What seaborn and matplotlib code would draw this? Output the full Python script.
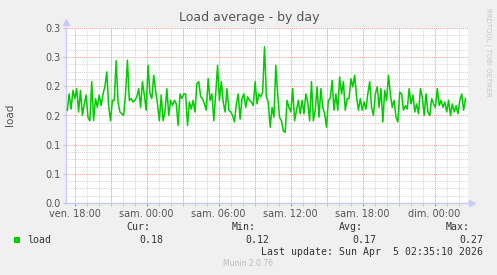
import numpy as np
import pandas as pd
import matplotlib
matplotlib.use("Agg")
import matplotlib.pyplot as plt
import seaborn as sns
from matplotlib.ticker import MultipleLocator, FuncFormatter

# ---- data ----
load_values = [
    # ven. 17:25 ->
    0.159, 0.187, 0.161, 0.193, 0.179, 0.196, 0.156, 0.193, 0.150, 0.170,
    0.185, 0.147, 0.141, 0.208, 0.141, 0.179, 0.164, 0.185, 0.167, 0.187,
    0.199, 0.225, 0.167, 0.141, 0.176, 0.176, 0.244, 0.173, 0.156, 0.153,
    0.150, 0.187, 0.245, 0.176, 0.179, 0.173, 0.176, 0.182, 0.196, 0.164,
    0.208, 0.185, 0.159, 0.236, 0.187, 0.179, 0.219, 0.193, 0.170, 0.141,
    0.185, 0.141, 0.156, 0.196, 0.150, 0.176, 0.167, 0.176, 0.170, 0.133,
    0.187, 0.179, 0.187,
    0.187, 0.133, 0.173, 0.161, 0.176, 0.156, 0.205, 0.208, 0.182, 0.179,
    0.170, 0.159, 0.213, 0.176, 0.187, 0.141, 0.187, 0.236, 0.176, 0.208,
    0.173, 0.156, 0.196, 0.159, 0.156, 0.150, 0.139, 0.170, 0.187, 0.144,
    0.179,
    0.187, 0.164, 0.182, 0.176, 0.173, 0.167, 0.208, 0.170, 0.187, 0.182,
    0.190, 0.268, 0.182, 0.173, 0.130, 0.164, 0.147, 0.236, 0.187, 0.147,
    0.141, 0.124, 0.121, 0.176, 0.164, 0.156, 0.196, 0.141, 0.159, 0.176,
    0.153,
    0.176, 0.153, 0.187, 0.173, 0.141, 0.208, 0.141, 0.159, 0.199, 0.147,
    0.196, 0.164, 0.153, 0.130, 0.176, 0.179, 0.210, 0.159, 0.187, 0.159,
    0.216, 0.187, 0.208, 0.159, 0.179, 0.179, 0.213, 0.199, 0.219, 0.182,
    0.159,
    0.179, 0.159, 0.173, 0.161, 0.187, 0.208, 0.164, 0.150, 0.187, 0.199,
    0.164, 0.196, 0.139, 0.193, 0.176, 0.219, 0.187, 0.164, 0.176, 0.147,
    0.139, 0.190, 0.187, 0.159, 0.167, 0.161, 0.196, 0.170, 0.185, 0.156,
    0.170, 0.153, 0.196, 0.182, 0.150, 0.187, 0.156, 0.150, 0.179, 0.170,
    0.164, 0.196, 0.167, 0.176, 0.164, 0.173, 0.156, 0.176, 0.150, 0.170,
    0.156, 0.167, 0.153, 0.176, 0.187, 0.159, 0.179,
]
# hours since ven. 00:00
start_hour = 17.4
end_hour = 50.58          # dim. 02:35
view_start = 17.29
view_end = 50.79
tick_hours = [18, 24, 30, 36, 42, 48]
tick_labels = ["ven. 18:00", "sam. 00:00", "sam. 06:00",
               "sam. 12:00", "sam. 18:00", "dim. 00:00"]
legend_name = "load"
stat_names = ["Cur:", "Min:", "Avg:", "Max:"]
stat_values = ["0.18", "0.12", "0.17", "0.27"]
last_update = "Last update: Sun Apr  5 02:35:10 2026"

hours = np.linspace(start_hour, end_hour, len(load_values))
df = pd.DataFrame({"hour": hours, "load": load_values})

W, H = 497, 275
fig = plt.figure(figsize=(W / 100, H / 100), dpi=100, facecolor="#F0F0F0")
ax = fig.add_axes([66 / W, 1 - 203 / H, (468 - 66) / W, (203 - 28) / H])
ax.set_facecolor("white")

sns.lineplot(data=df, x="hour", y="load", ax=ax, color="#00CC00",
             linewidth=1.1, zorder=5)

ax.set_xlim(view_start, view_end)
ax.set_ylim(0, 0.3)

# grid
ax.yaxis.set_major_locator(MultipleLocator(0.05))
ax.yaxis.set_minor_locator(MultipleLocator(0.0125))
ax.set_xticks(tick_hours, labels=tick_labels, minor=False)
ax.xaxis.set_minor_locator(MultipleLocator(1))
ax.grid(which="minor", color="#D4D4D4", linestyle=(0, (1, 1)), linewidth=0.7)
ax.grid(which="major", axis="y", color="#EBA0A0", linestyle=(0, (1, 1)), linewidth=0.7)
ax.set_axisbelow(True)
for h in np.arange(18, 51, 3):
    ax.axvline(h, color="#EBA0A0", linestyle=(0, (1, 1)), linewidth=0.7, zorder=1)

ax.yaxis.set_major_formatter(FuncFormatter(lambda v, p: f"{v:.1f}"))
ax.tick_params(axis="both", which="both", labelsize=7, labelcolor="#555555",
               length=2, width=0.7, pad=2)
ax.tick_params(axis="x", which="major", colors="#E07070", labelcolor="#555555")
ax.tick_params(axis="x", which="minor", colors="#C0C0C0")
ax.tick_params(axis="y", which="major", colors="#C0C0C0", labelcolor="#555555")
ax.tick_params(axis="y", which="minor", length=0)

for s in ["top", "right"]:
    ax.spines[s].set_visible(False)
for s in ["left", "bottom"]:
    ax.spines[s].set_color("#C8CCF4")
    ax.spines[s].set_linewidth(1)
ax.plot([0], [1.035], marker="^", markersize=5, color="#C8CCF4",
        transform=ax.transAxes, clip_on=False)
ax.plot([1.01], [0], marker=">", markersize=5, color="#C8CCF4",
        transform=ax.transAxes, clip_on=False)

ax.set_xlabel("")
ax.set_ylabel("")
fig.text(10 / W, 1 - 115 / H, "load", rotation=90, ha="center", va="center",
         fontsize=7.5, color="#555555")

fig.text(249 / W, 1 - 18 / H, "Load average - by day", ha="center",
         va="center", fontsize=9, color="#555555")
fig.text(488 / W, 1 - 52 / H, "RRDTOOL / TOBI OETIKER", rotation=270,
         ha="center", va="center", fontsize=5, color="#C8C8C8")

mono = "DejaVu Sans Mono"
fs = 7.1
name_right = [150, 256, 363, 470]
val_right = [163, 269, 376, 483]
for nm, xr in zip(stat_names, name_right):
    fig.text(xr / W, 1 - 227 / H, nm, ha="right", va="center",
             family=mono, fontsize=fs, color="#333333")
for vl, xr in zip(stat_values, val_right):
    fig.text(xr / W, 1 - 240 / H, vl, ha="right", va="center",
             family=mono, fontsize=fs, color="#333333")
fig.patches.append(plt.Rectangle((14 / W, 1 - 243 / H), 6 / W, 6 / H,
                                 transform=fig.transFigure,
                                 facecolor="#00CC00", edgecolor="none"))
fig.text(27 / W, 1 - 240 / H, legend_name, ha="left", va="center",
         family=mono, fontsize=fs, color="#333333")
fig.text(483 / W, 1 - 252 / H, last_update, ha="right", va="center",
         family=mono, fontsize=fs, color="#333333")
fig.text(248 / W, 1 - 264 / H, "Munin 2.0.76", ha="center", va="center",
         fontsize=5.5, color="#BBBBBB")

fig.savefig("out.png", dpi=100, facecolor=fig.get_facecolor())
